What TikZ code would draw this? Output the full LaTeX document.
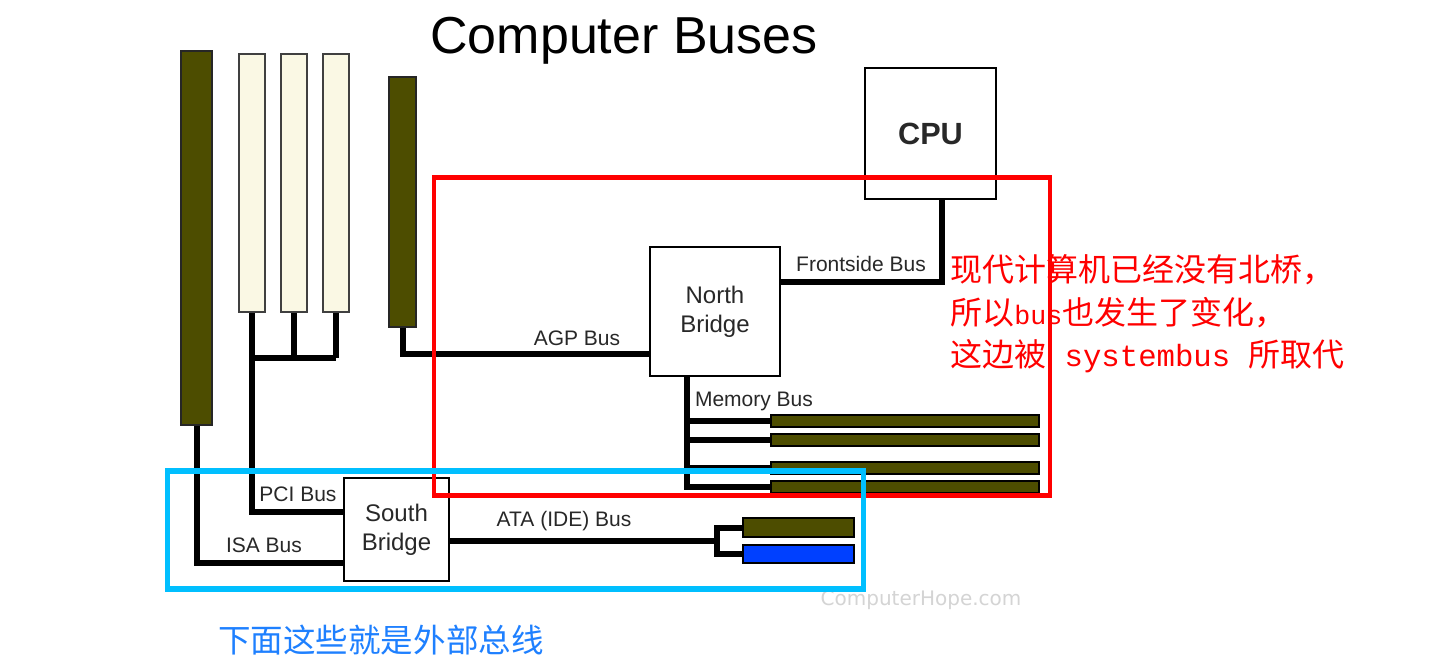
\documentclass[tikz,border=0pt]{standalone}
\usepackage{fontspec}
\setmainfont{Liberation Sans}
\newfontfamily\cjk{Noto Sans CJK SC}
\newfontfamily\monof{Liberation Mono}
\newfontfamily\wmfont{DejaVu Sans}
\definecolor{slotdark}{RGB}{77,77,0}
\definecolor{slotcream}{RGB}{250,248,228}
\definecolor{driveblue}{RGB}{0,64,255}
\definecolor{cyanbox}{RGB}{0,191,255}
\definecolor{labelgray}{RGB}{40,40,40}
\definecolor{notered}{RGB}{255,0,0}
\definecolor{noteblue}{RGB}{30,128,255}
\definecolor{wmgray}{RGB}{212,212,212}
\tikzset{
  slotbox/.style={draw=black!85, line width=1.4pt, inner sep=0pt},
  darkslot/.style={slotbox, fill=slotdark, minimum width=20.25pt},
  creamslot/.style={slotbox, fill=slotcream, draw=black!75, minimum width=19.9pt},
  memstick/.style={draw=black, line width=1.2pt, fill=slotdark, inner sep=0pt, minimum width=201pt, minimum height=9pt},
  drivebox/.style={draw=black, line width=1.2pt, inner sep=0pt, minimum width=83.25pt, minimum height=13.9pt},
  chip/.style={draw=black, line width=2.2pt, fill=white, inner sep=0pt, align=center, text=labelgray},
  bus/.style={line width=4.5pt, draw=black},
  buslabel/.style={text=labelgray, inner sep=0pt, font=\fontsize{15.75}{18}\selectfont},
  redline/.style={draw=notered, line width=3.4pt},
  cyanline/.style={draw=cyanbox, line width=3.8pt},
}
\begin{document}
\begin{tikzpicture}[x=0.75pt,y=-0.75pt]
\useasboundingbox[fill=white] (0,0) rectangle (1440,661);

% title
\node[inner sep=0pt, font=\fontsize{39}{44}\selectfont, text=black] (title) at (624,41) {Computer Buses};

% expansion slots
\node[darkslot, minimum width=23.25pt, minimum height=280.5pt] (isa) at (196.5,238) {};
\node[creamslot, minimum height=193.5pt] (pci1) at (252,183) {};
\node[creamslot, minimum height=193.5pt] (pci2) at (294,183) {};
\node[creamslot, minimum height=193.5pt] (pci3) at (336,183) {};
\node[darkslot, minimum height=187.5pt] (agp) at (402.5,202) {};

% chips
\node[chip, minimum width=97.5pt, minimum height=96.75pt, font=\fontsize{18}{22}\selectfont] (nb) at (715,311.5) {North\\Bridge};
\node[chip, minimum width=98.25pt, minimum height=98.25pt, font=\bfseries\fontsize{23}{26}\selectfont] (cpu) at (930.5,133.5) {CPU};
\node[chip, minimum width=78.75pt, minimum height=77.25pt, font=\fontsize{18}{22}\selectfont] (sb) at (396.5,529.5) {South\\Bridge};

% memory sticks
\node[memstick] (m1) at (905,421) {};
\node[memstick] (m2) at (905,440) {};
\node[memstick] (m3) at (905,468) {};
\node[memstick] (m4) at (905,487) {};

% drives
\node[drivebox, fill=slotdark] (d1) at (798.5,527.5) {};
\node[drivebox, fill=driveblue] (d2) at (798.5,554) {};

% helper coordinates
\coordinate (pj) at (252,358);
\coordinate (pciy) at (0,512);
\coordinate (isay) at (0,563);
\coordinate (agpy) at (0,354);
\coordinate (fsby) at (0,282);
\coordinate (fsbx) at (942,0);
\coordinate (memx) at (687,0);
\coordinate (atj) at (716.5,540.5);

% buses
\draw[bus] (pci1.south) -- (pj);
\draw[bus] (pci2.south) -- (pci2.south |- pj);
\draw[bus] (pci3.south) -- (pci3.south |- pj);
\draw[bus] (pj) -- (pci3.south |- pj);
\draw[bus] (pj) |- (sb.west |- pciy);
\draw[bus] (isa.south) |- (sb.west |- isay);
\draw[bus] (agp.south) |- (nb.west |- agpy);
\draw[bus] (nb.east |- fsby) -| (fsbx |- cpu.south);
\draw[bus] (memx |- nb.south) |- (m4.west);
\draw[bus] (memx |- m1.west) -- (m1.west);
\draw[bus] (memx |- m2.west) -- (m2.west);
\draw[bus] (memx |- m3.west) -- (m3.west);
\draw[bus] (sb.east |- atj) -- (atj);
\draw[bus] (atj) |- (d1.west);
\draw[bus] (atj) |- (d2.west);

% bus labels
\node[buslabel] (lpci) at (298,494) {PCI Bus};
\node[buslabel] (lisa) at (264,545) {ISA Bus};
\node[buslabel] (lata) at (564,521) {ATA (IDE) Bus};
\node[buslabel] (lagp) at (577,338) {AGP Bus};
\node[buslabel] (lfsb) at (861,264) {Frontside Bus};
\node[buslabel] (lmem) at (754,401) {Memory Bus};

% watermark
\node[inner sep=0pt, text=wmgray, font=\wmfont\fontsize{15}{18}\selectfont] (wm) at (921,600) {ComputerHope.com};

% notes
\node[anchor=west, inner sep=0pt, text=notered, font=\cjk\fontsize{24}{28}\selectfont] (r1) at (950,270) {现代计算机已经没有北桥，};
\node[anchor=west, inner sep=0pt, text=notered, font=\cjk\fontsize{24}{28}\selectfont] (r2) at (950,313) {所以{\monof\fontsize{20}{24}\selectfont bus}也发生了变化，};
\node[anchor=west, inner sep=0pt, text=notered, font=\cjk\fontsize{24}{28}\selectfont] (r3) at (950,356) {这边被{\monof\fontsize{23}{26}\selectfont\ systembus\ }所取代};
\node[anchor=west, inner sep=0pt, text=noteblue, font=\cjk\fontsize{24.4}{28}\selectfont] (b1) at (218,640) {下面这些就是外部总线};

% highlight frames
\draw[redline] (434,177.5) rectangle (1050,495.5);
\draw[cyanline] (167.5,471) rectangle (863.5,589);
\end{tikzpicture}
\end{document}
